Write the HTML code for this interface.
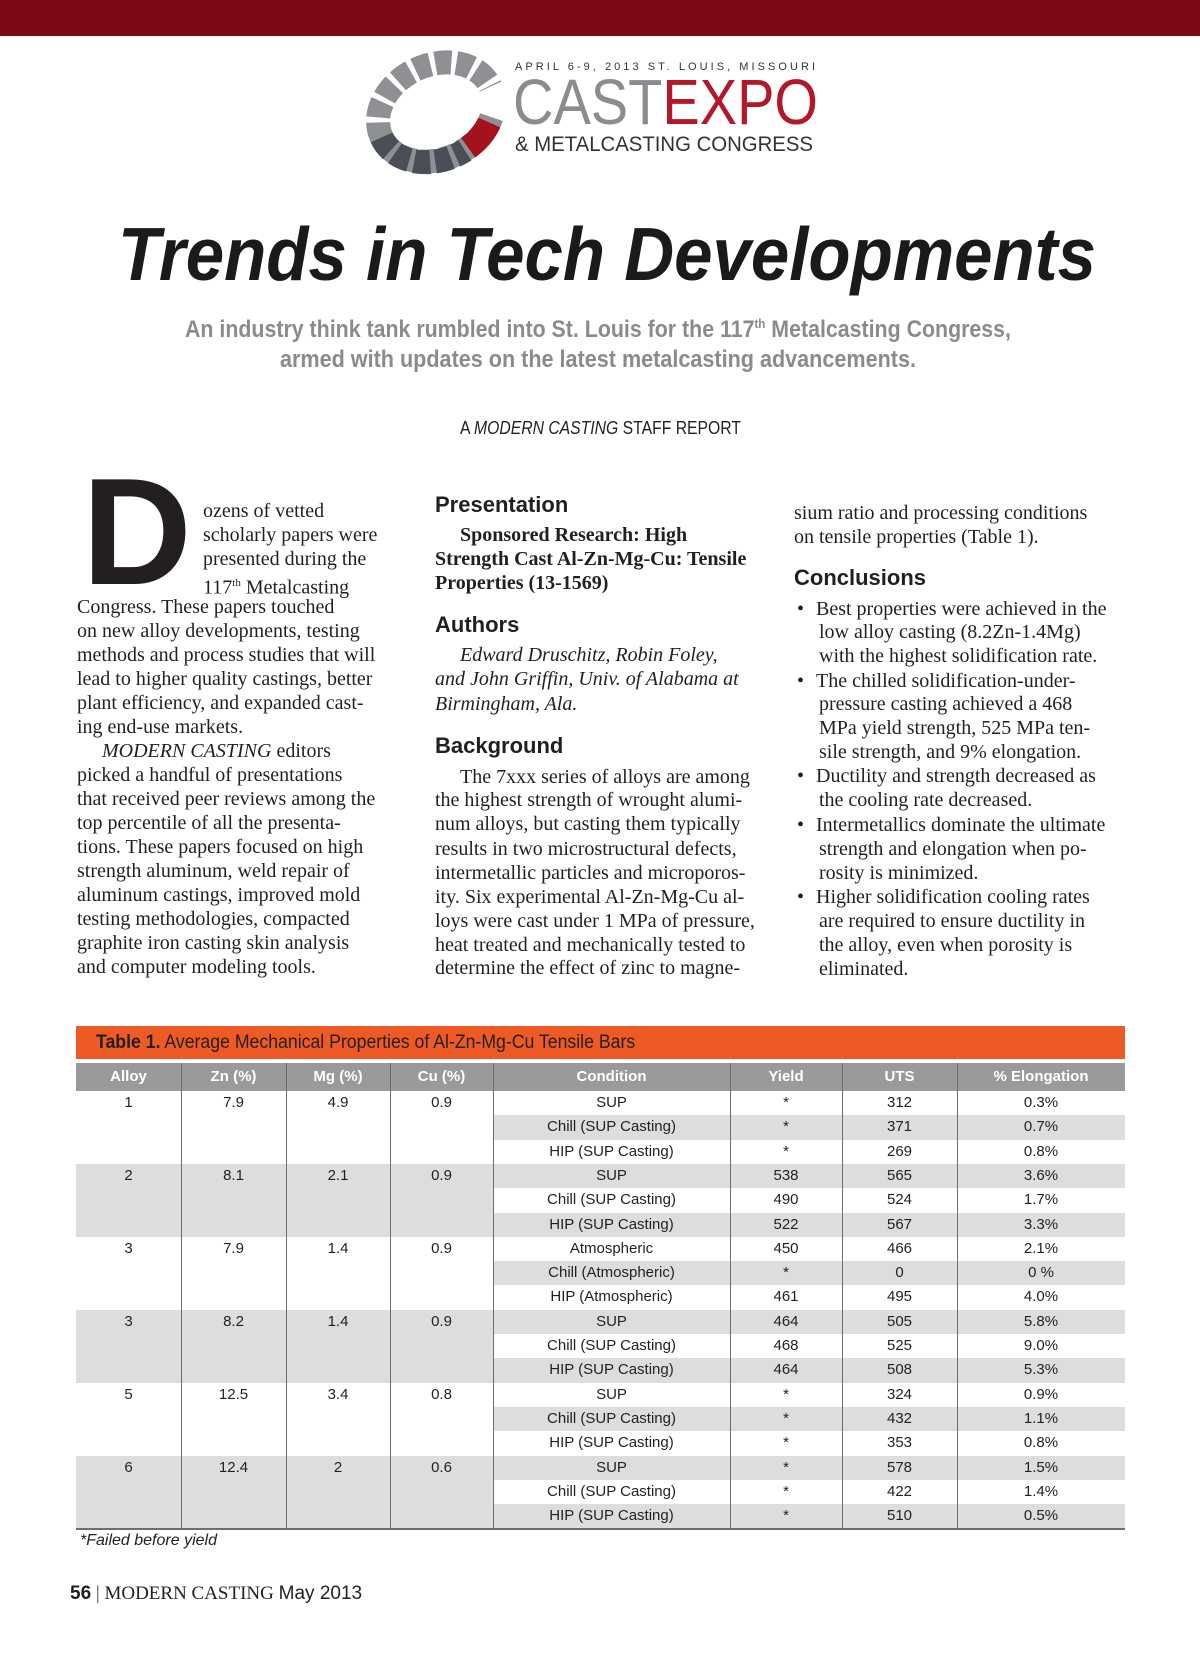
<!DOCTYPE html>
<html><head><meta charset="utf-8">
<style>
body{margin:0;width:1200px;height:1657px;position:relative;background:#fff;overflow:hidden;font-family:"Liberation Serif",serif;color:#231f20}
.ab{position:absolute;white-space:nowrap}
.ln{position:absolute;white-space:nowrap;font-size:20px;line-height:24px;height:24px}
.hd{position:absolute;white-space:nowrap;font-family:"Liberation Sans Narrow","Liberation Sans",sans-serif;font-weight:bold;font-size:22px;line-height:24px;color:#231f20}
.b{font-weight:bold}.i{font-style:italic}
#tbl div{position:absolute;font-family:"Liberation Sans Narrow","Liberation Sans",sans-serif;font-size:15px;text-align:center;line-height:24px}
</style></head><body>
<div style="position:absolute;left:0;top:0;width:1200px;height:36px;background:#7e0916"></div>

<svg class="ab" style="left:0;top:40px" width="1200" height="150">
 <g transform="translate(436,72) rotate(-25)">
  <ellipse cx="0" cy="0" rx="60" ry="47" fill="none" stroke="#8e9094" stroke-width="24" stroke-dasharray="16 5"/>
  <path d="M-60,0 A60,47 0 0 0 10,47" fill="none" stroke="#4a4f57" stroke-width="24" stroke-dasharray="16 5"/>
  <path d="M14,46 A60,47 0 0 0 44,32" fill="none" stroke="#a3121d" stroke-width="24"/>
  <path d="M48,28 A60,47 0 0 0 60,0" fill="none" stroke="#fff" stroke-width="26"/>
 </g>
 <text x="515" y="30" font-family="Liberation Sans,sans-serif" font-size="11" fill="#333" textLength="300" lengthAdjust="spacing">APRIL 6-9, 2013   ST. LOUIS, MISSOURI</text>
 <text x="513" y="84" font-family="Liberation Sans,sans-serif" font-size="64" textLength="305" lengthAdjust="spacingAndGlyphs"><tspan fill="#8a8c8f">CAST</tspan><tspan fill="#b3182a">EXPO</tspan></text>
 <text x="515" y="111" font-family="Liberation Sans,sans-serif" font-size="21" fill="#333" textLength="298" lengthAdjust="spacingAndGlyphs">&amp; METALCASTING CONGRESS</text>
</svg>

<svg class="ab" style="left:0;top:200px" width="1200" height="250">
 <text x="118" y="80" font-family="Liberation Sans,sans-serif" font-weight="bold" font-style="italic" font-size="75" fill="#1a1a1a" textLength="978" lengthAdjust="spacingAndGlyphs">Trends in Tech Developments</text>
 <text x="185" y="137" font-family="Liberation Sans,sans-serif" font-weight="bold" font-size="24" fill="#8a8b8d" textLength="826" lengthAdjust="spacingAndGlyphs">An industry think tank rumbled into St. Louis for the 117<tspan font-size="13" dy="-9">th</tspan><tspan dy="9"> Metalcasting Congress,</tspan></text>
 <text x="280" y="167" font-family="Liberation Sans,sans-serif" font-weight="bold" font-size="24" fill="#8a8b8d" textLength="636" lengthAdjust="spacingAndGlyphs">armed with updates on the latest metalcasting advancements.</text>
 <text x="460" y="234" font-family="Liberation Sans,sans-serif" font-size="18" fill="#231f20" textLength="281" lengthAdjust="spacingAndGlyphs">A <tspan font-style="italic">MODERN CASTING</tspan> STAFF REPORT</text>
</svg>

<div class="ab" style="left:82px;top:452px;font-family:'Liberation Sans',sans-serif;font-weight:bold;font-size:152px;line-height:160px;color:#231f20">D</div>

<div>
<div class="ln" style="left:203px;top:499px">ozens of vetted</div>
<div class="ln" style="left:203px;top:523px">scholarly papers were</div>
<div class="ln" style="left:203px;top:547px">presented during the</div>
<div class="ln" style="left:203px;top:571px">117<sup style="font-size:11px">th</sup> Metalcasting</div>
<div class="ln" style="left:77px;top:595px">Congress. These papers touched</div>
<div class="ln" style="left:77px;top:619px">on new alloy developments, testing</div>
<div class="ln" style="left:77px;top:643px">methods and process studies that will</div>
<div class="ln" style="left:77px;top:667px">lead to higher quality castings, better</div>
<div class="ln" style="left:77px;top:691px">plant efficiency, and expanded cast-</div>
<div class="ln" style="left:77px;top:715px">ing end-use markets.</div>
<div class="ln" style="left:102px;top:739px"><i>MODERN CASTING</i> editors</div>
<div class="ln" style="left:77px;top:763px">picked a handful of presentations</div>
<div class="ln" style="left:77px;top:787px">that received peer reviews among the</div>
<div class="ln" style="left:77px;top:811px">top percentile of all the presenta-</div>
<div class="ln" style="left:77px;top:835px">tions. These papers focused on high</div>
<div class="ln" style="left:77px;top:859px">strength aluminum, weld repair of</div>
<div class="ln" style="left:77px;top:883px">aluminum castings, improved mold</div>
<div class="ln" style="left:77px;top:907px">testing methodologies, compacted</div>
<div class="ln" style="left:77px;top:931px">graphite iron casting skin analysis</div>
<div class="ln" style="left:77px;top:955px">and computer modeling tools.</div>
</div>

<div>
<div class="hd" style="left:435px;top:493px">Presentation</div>
<div class="ln b" style="left:460px;top:523px">Sponsored Research: High</div>
<div class="ln b" style="left:435px;top:547px">Strength Cast Al-Zn-Mg-Cu: Tensile</div>
<div class="ln b" style="left:435px;top:571px">Properties (13-1569)</div>
<div class="hd" style="left:435px;top:613px">Authors</div>
<div class="ln i" style="left:460px;top:643px">Edward Druschitz, Robin Foley,</div>
<div class="ln i" style="left:435px;top:667px">and John Griffin, Univ. of Alabama at</div>
<div class="ln i" style="left:435px;top:692px">Birmingham, Ala.</div>
<div class="hd" style="left:435px;top:734px">Background</div>
<div class="ln" style="left:460px;top:765px">The 7xxx series of alloys are among</div>
<div class="ln" style="left:435px;top:788px">the highest strength of wrought alumi-</div>
<div class="ln" style="left:435px;top:812px">num alloys, but casting them typically</div>
<div class="ln" style="left:435px;top:837px">results in two microstructural defects,</div>
<div class="ln" style="left:435px;top:861px">intermetallic particles and microporos-</div>
<div class="ln" style="left:435px;top:885px">ity. Six experimental Al-Zn-Mg-Cu al-</div>
<div class="ln" style="left:435px;top:909px">loys were cast under 1 MPa of pressure,</div>
<div class="ln" style="left:435px;top:933px">heat treated and mechanically tested to</div>
<div class="ln" style="left:435px;top:956px">determine the effect of zinc to magne-</div>
</div>

<div>
<div class="ln" style="left:794px;top:501px">sium ratio and processing conditions</div>
<div class="ln" style="left:794px;top:525px">on tensile properties (Table 1).</div>
<div class="hd" style="left:794px;top:566px">Conclusions</div>
<div class="ln" style="left:797px;top:597px">•</div><div class="ln" style="left:816px;top:597px">Best properties were achieved in the</div>
<div class="ln" style="left:819px;top:620px">low alloy casting (8.2Zn-1.4Mg)</div>
<div class="ln" style="left:819px;top:644px">with the highest solidification rate.</div>
<div class="ln" style="left:797px;top:669px">•</div><div class="ln" style="left:816px;top:669px">The chilled solidification-under-</div>
<div class="ln" style="left:819px;top:692px">pressure casting achieved a 468</div>
<div class="ln" style="left:819px;top:716px">MPa yield strength, 525 MPa ten-</div>
<div class="ln" style="left:819px;top:740px">sile strength, and 9% elongation.</div>
<div class="ln" style="left:797px;top:764px">•</div><div class="ln" style="left:816px;top:764px">Ductility and strength decreased as</div>
<div class="ln" style="left:819px;top:788px">the cooling rate decreased.</div>
<div class="ln" style="left:797px;top:813px">•</div><div class="ln" style="left:816px;top:813px">Intermetallics dominate the ultimate</div>
<div class="ln" style="left:819px;top:837px">strength and elongation when po-</div>
<div class="ln" style="left:819px;top:861px">rosity is minimized.</div>
<div class="ln" style="left:797px;top:885px">•</div><div class="ln" style="left:816px;top:885px">Higher solidification cooling rates</div>
<div class="ln" style="left:819px;top:909px">are required to ensure ductility in</div>
<div class="ln" style="left:819px;top:933px">the alloy, even when porosity is</div>
<div class="ln" style="left:819px;top:957px">eliminated.</div>
</div>

<div class="ab" style="left:76px;top:1026px;width:1049px;height:33px;background:#ee5a24;font-family:'Liberation Sans Narrow','Liberation Sans',sans-serif;font-size:19px;line-height:33px;color:#231f20"><span style="display:inline-block;margin-left:20px;transform:scaleX(0.93);transform-origin:left"><b>Table 1.</b> Average Mechanical Properties of Al-Zn-Mg-Cu Tensile Bars</span></div>
<div id="tbl"></div>

<div class="ab" style="left:80px;top:1532px;font-family:'Liberation Sans Narrow','Liberation Sans',sans-serif;font-style:italic;font-size:16px">*Failed before yield</div>
<div class="ab" style="left:70px;top:1583px;font-size:19px"><b style="font-family:'Liberation Sans',sans-serif">56</b> <span style="color:#444">|</span> <span style="font-family:'Liberation Serif',serif">MODERN CASTING</span> <span style="font-family:'Liberation Sans',sans-serif">May 2013</span></div>

<script>
const headers=["Alloy","Zn (%)","Mg (%)","Cu (%)","Condition","Yield","UTS","% Elongation"];
const alloys=["1","2","3","3","5","6"];
const zn=["7.9","8.1","7.9","8.2","12.5","12.4"];
const mg=["4.9","2.1","1.4","1.4","3.4","2"];
const cu=["0.9","0.9","0.9","0.9","0.8","0.6"];
const conditions=["SUP","Chill (SUP Casting)","HIP (SUP Casting)","SUP","Chill (SUP Casting)","HIP (SUP Casting)","Atmospheric","Chill (Atmospheric)","HIP (Atmospheric)","SUP","Chill (SUP Casting)","HIP (SUP Casting)","SUP","Chill (SUP Casting)","HIP (SUP Casting)","SUP","Chill (SUP Casting)","HIP (SUP Casting)"];
const yieldVals=["*","*","*","538","490","522","450","*","461","464","468","464","*","*","*","*","*","*"];
const uts=["312","371","269","565","524","567","466","0","495","505","525","508","324","432","353","578","422","510"];
const elong=["0.3%","0.7%","0.8%","3.6%","1.7%","3.3%","2.1%","0 %","4.0%","5.8%","9.0%","5.3%","0.9%","1.1%","0.8%","1.5%","1.4%","0.5%"];
const T=document.getElementById('tbl');
const cols=[76,181,286,390,493,730,842,957,1125];
const top0=1063,hh=28,rh=24.3;
function cell(x,y,w,h,txt,bg,col,bold){
 const d=document.createElement('div');
 d.style.cssText=`left:${x}px;top:${y}px;width:${w}px;height:${h}px;line-height:${h}px;background:${bg};color:${col};font-weight:${bold?'bold':'normal'}`;
 d.textContent=txt;T.appendChild(d);return d;}
headers.forEach((h,i)=>{
 const d=cell(cols[i],top0,cols[i+1]-cols[i],hh,h,'#999a9c','#fff',true);
 
 
});
const y0=top0+hh;
alloys.forEach((a,g)=>{
 const bg=g%2?'#dcdddf':'#fff';
 [a,zn[g],mg[g],cu[g]].forEach((v,c)=>{
  const d=cell(cols[c],y0+g*3*rh,cols[c+1]-cols[c],3*rh,'',bg,'#231f20',false);
  
  
  const s=document.createElement('span');s.textContent=v;s.style.cssText='position:absolute;left:0;right:0;top:0;line-height:'+rh+'px';d.appendChild(s);
 });
});
conditions.forEach((cd,r)=>{
 const bg=r%2?'#dcdddf':'#fff';
 [cd,yieldVals[r],uts[r],elong[r]].forEach((v,k)=>{
  const c=k+4;
  const d=cell(cols[c],y0+r*rh,cols[c+1]-cols[c],rh,v,bg,'#231f20',false);
  
  
 });
});
for(let c=1;c<cols.length-1;c++){
 const l=document.createElement('div');
 l.style.cssText=`left:${cols[c]}px;top:${top0}px;width:1px;height:${hh+18*rh}px;background:#6d6e70`;
 
 
 T.appendChild(l);
}
const bl=document.createElement('div');
bl.style.cssText=`left:76px;top:${y0+18*rh}px;width:1049px;height:2px;background:#6d6e70`;


T.appendChild(bl);
</script>
</body></html>
